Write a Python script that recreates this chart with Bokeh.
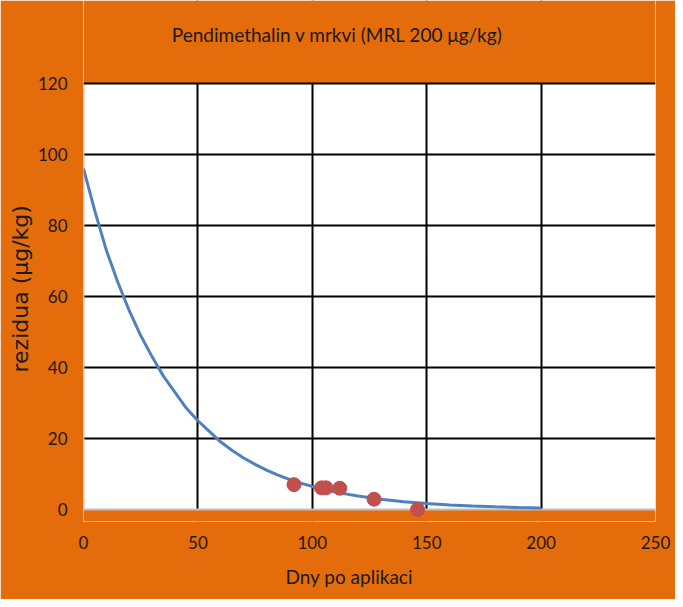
from bokeh.plotting import figure
from bokeh.models import Range1d, Title, FixedTicker, BoxAnnotation, Label
from bokeh.embed import file_html
from bokeh.resources import INLINE

# measured residues (days after application, µg/kg)
days_measured = [92, 104, 106, 112, 127, 146]
residue_measured = [7.0, 6.1, 6.1, 6.0, 2.9, 0.0]

# fitted decay curve
curve_days = [0, 5, 10, 15, 20, 25, 30, 35, 40, 45, 50, 55, 60, 65, 70, 75, 80, 85, 90, 95,
              100, 110, 120, 130, 140, 150, 160, 170, 180, 190, 200]
curve_residue = [96, 84, 73, 64, 56, 49, 43, 37.5, 33, 28.5, 25, 22, 19, 16.6, 14.5, 12.7,
                 11.1, 9.7, 8.5, 7.4, 6.5, 4.9, 3.8, 2.9, 2.2, 1.7, 1.3, 1.0, 0.75, 0.57, 0.44]

x_ticks = [0, 50, 100, 150, 200, 250]
y_ticks = [0, 20, 40, 60, 80, 100, 120]

title_text = "Pendimethalin v mrkvi (MRL 200 μg/kg)"
x_label = "Dny po aplikaci"
y_label = "rezidua (μg/kg)"

ORANGE = "#E46C0A"
W, H = 675, 599
X0, X1 = x_ticks[0], x_ticks[-1]
Y0, Y1 = y_ticks[0], y_ticks[-1]
PLOT_H = 426            # pixel height of the 0..120 area
EXTRA_B = 12            # orange strip below 0 so the bottom marker is not clipped
EXTRA_T = 83            # orange strip above 120 that holds the title
y_low = Y0 - EXTRA_B * (Y1 - Y0) / PLOT_H
y_high = Y1 + EXTRA_T * (Y1 - Y0) / PLOT_H

p = figure(width=W, height=H, output_backend="svg", toolbar_location=None,
           x_range=Range1d(X0, X1), y_range=Range1d(y_low, y_high),
           min_border_left=83, min_border_right=20, min_border_top=0,
           min_border_bottom=90 - EXTRA_B)
p.background_fill_color = "white"
p.border_fill_color = ORANGE
p.outline_line_color = None

for ax in (p.xaxis[0], p.yaxis[0]):
    ax.axis_line_color = None
    ax.major_tick_line_color = None
    ax.minor_tick_line_color = None
    ax.major_label_text_font = "Lato"
    ax.major_label_text_font_size = "17px"
    ax.major_label_text_color = "#1a1a1a"
p.xaxis[0].ticker = FixedTicker(ticks=x_ticks)
p.yaxis[0].ticker = FixedTicker(ticks=y_ticks)
p.xaxis[0].major_label_standoff = 20 - EXTRA_B
p.yaxis[0].major_label_standoff = 10

for g in (p.xgrid[0], p.ygrid[0]):
    g.grid_line_color = "black"
    g.grid_line_width = 2
p.xgrid[0].ticker = FixedTicker(ticks=x_ticks[1:])
p.ygrid[0].ticker = FixedTicker(ticks=y_ticks[1:-1])

# orange strips below zero and above the top (extend to the frame edges, cover grid lines)
p.add_layout(BoxAnnotation(top=Y0, fill_color=ORANGE, fill_alpha=1,
                           line_color=None, level="underlay"))
p.add_layout(BoxAnnotation(bottom=Y1, fill_color=ORANGE, fill_alpha=1,
                           line_color=None, level="underlay"))

# light grey axis lines along x=0 and y=0, black top border at 120
p.line([X0, X0], [Y0, Y1], line_color="#BFBFBF", line_width=2)
p.line([X0, X1], [Y0, Y0], line_color="#BFBFBF", line_width=2)
p.line([X0, X1], [Y1, Y1], line_color="black", line_width=2)

p.line(curve_days, curve_residue, line_color="#4F81BD", line_width=3)
p.scatter(days_measured, residue_measured, size=14, fill_color="#C0504D", line_color="#C0504D")

# title inside the (orange) top strip; screen units from the frame's lower-left corner
p.add_layout(Label(x=254, y=487, x_units="screen", y_units="screen", text=title_text,
                   text_font="Lato", text_font_size="19px", text_color="#1a1a1a",
                   text_align="center", text_baseline="middle"))
p.add_layout(Title(text=x_label, align="left", offset=202, standoff=22,
                   text_font="Lato", text_font_size="19px", text_font_style="normal",
                   text_color="#1a1a1a"), "below")
p.add_layout(Title(text=y_label, align="left", offset=149, standoff=4,
                   text_font="DejaVu Sans", text_font_size="22px", text_font_style="normal",
                   text_color="#1a1a1a"), "left")

open("out.html", "w").write(file_html(p, INLINE))
